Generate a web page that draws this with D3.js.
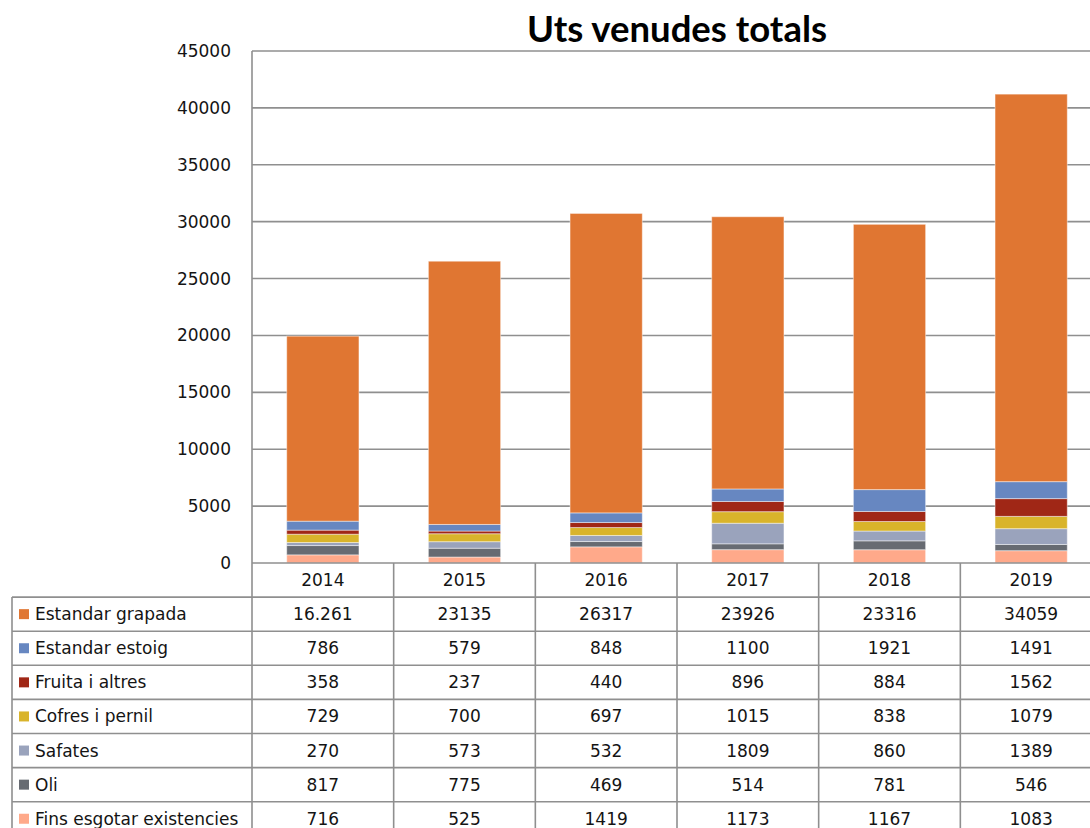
<!DOCTYPE html>
<html>
<head>
<meta charset="utf-8">
<script src="https://cdn.jsdelivr.net/npm/d3@7"></script>
<style>
  body { margin: 0; background: #fff; }
  svg { display: block; }
  text { font-family: "DejaVu Sans", Verdana, sans-serif; fill: #141414; }
</style>
</head>
<body>
<svg id="chart" width="1090" height="828"></svg>
<script>
// Uts venudes totals - stacked columns with data table underneath

const years = ['2014', '2015', '2016', '2017', '2018', '2019'];

// bottom of the stack first
const finsEsgotar = [716, 525, 1419, 1173, 1167, 1083];
const oli = [817, 775, 469, 514, 781, 546];
const safates = [270, 573, 532, 1809, 860, 1389];
const cofresPernil = [729, 700, 697, 1015, 838, 1079];
const fruitaAltres = [358, 237, 440, 896, 884, 1562];
const estandarEstoig = [786, 579, 848, 1100, 1921, 1491];
const estandarGrapada = [16261, 23135, 26317, 23926, 23316, 34059];

const yTicks = [0, 5000, 10000, 15000, 20000, 25000, 30000, 35000, 40000, 45000];

const series = [
  { name: 'Fins esgotar existencies', values: finsEsgotar, color: '#FFA98A' },
  { name: 'Oli', values: oli, color: '#676B72' },
  { name: 'Safates', values: safates, color: '#9AA3BC' },
  { name: 'Cofres i pernil', values: cofresPernil, color: '#D9B42B' },
  { name: 'Fruita i altres', values: fruitaAltres, color: '#A02716' },
  { name: 'Estandar estoig', values: estandarEstoig, color: '#6787C1' },
  { name: 'Estandar grapada', values: estandarGrapada, color: '#E07632' }
];

// the source sheet shows one cell with a thousands separator
const cellOverride = { 'Estandar grapada|2014': '16.261' };

const svg = d3.select('#chart');
const plotLeft = 252, plotRight = 1102, plotTop = 51, plotBottom = 563;
const tableLeft = 12, rowH = 34.1;
const gridColor = '#8f8f8f';
const fontSize = '17px';

const rows = years.map((year, i) => {
  const r = { year };
  series.forEach(s => { r[s.name] = s.values[i]; });
  return r;
});

const stack = d3.stack().keys(series.map(s => s.name));
const layers = stack(rows);

const x = d3.scaleBand().domain(years).range([plotLeft, plotRight]).padding(0);
const xBar = d3.scaleBand().domain(years).range([plotLeft, plotRight]).paddingInner(0.49).paddingOuter(0.245);
const y = d3.scaleLinear().domain([0, 45000]).range([plotBottom, plotTop]);

// gridlines
svg.append('g')
  .selectAll('line')
  .data(yTicks.filter(t => t > 0))
  .join('line')
  .attr('x1', plotLeft).attr('x2', 1090)
  .attr('y1', d => y(d)).attr('y2', d => y(d))
  .attr('stroke', gridColor).attr('stroke-width', 1.6);

// y axis labels
svg.append('g')
  .selectAll('text')
  .data(yTicks)
  .join('text')
  .attr('x', 231)
  .attr('y', d => y(d) + 6)
  .attr('text-anchor', 'end')
  .attr('font-size', fontSize)
  .text(d => d);

// bars
const colorOf = name => series.find(s => s.name === name).color;
svg.append('g')
  .selectAll('g')
  .data(layers)
  .join('g')
  .attr('fill', d => colorOf(d.key))
  .selectAll('rect')
  .data(d => d)
  .join('rect')
  .attr('x', d => xBar(d.data.year))
  .attr('width', xBar.bandwidth())
  .attr('y', d => y(d[1]))
  .attr('height', d => y(d[0]) - y(d[1]))
  .attr('stroke', 'rgba(255,255,255,0.45)')
  .attr('stroke-width', 1);

// title
svg.append('text')
  .attr('x', (plotLeft + plotRight) / 2)
  .attr('y', 42)
  .attr('text-anchor', 'middle')
  .style('font-family', 'Lato, "Open Sans", sans-serif')
  .style('font-weight', 'bold')
  .style('font-size', '36.5px')
  .style('fill', '#000')
  .text('Uts venudes totals');

// data table
const table = svg.append('g');
const tableRows = series.slice().reverse();
const tableBottom = plotBottom + rowH + tableRows.length * rowH;

// plot-area left edge runs down through the table
table.append('line')
  .attr('x1', plotLeft).attr('x2', plotLeft)
  .attr('y1', plotTop).attr('y2', 828)
  .attr('stroke', gridColor).attr('stroke-width', 1.6);

// x axis line
table.append('line')
  .attr('x1', plotLeft).attr('x2', 1090)
  .attr('y1', plotBottom).attr('y2', plotBottom)
  .attr('stroke', gridColor).attr('stroke-width', 1.6);

// column separators
table.selectAll('line.col')
  .data(years.slice(1))
  .join('line')
  .attr('class', 'col')
  .attr('x1', d => x(d)).attr('x2', d => x(d))
  .attr('y1', plotBottom).attr('y2', Math.max(tableBottom, 828))
  .attr('stroke', gridColor).attr('stroke-width', 1.6);

// outer left edge of the legend column
table.append('line')
  .attr('x1', tableLeft).attr('x2', tableLeft)
  .attr('y1', plotBottom + rowH).attr('y2', Math.max(tableBottom, 828))
  .attr('stroke', gridColor).attr('stroke-width', 1.6);

// row separators
table.selectAll('line.row')
  .data(d3.range(tableRows.length))
  .join('line')
  .attr('class', 'row')
  .attr('x1', tableLeft).attr('x2', 1090)
  .attr('y1', i => plotBottom + rowH + i * rowH)
  .attr('y2', i => plotBottom + rowH + i * rowH)
  .attr('stroke', gridColor).attr('stroke-width', 1.6);

// header years
table.selectAll('text.year')
  .data(years)
  .join('text')
  .attr('class', 'year')
  .attr('x', d => x(d) + x.bandwidth() / 2)
  .attr('y', plotBottom + rowH / 2 + 6)
  .attr('text-anchor', 'middle')
  .attr('font-size', fontSize)
  .text(d => d);

const rowG = table.selectAll('g.trow')
  .data(tableRows)
  .join('g')
  .attr('class', 'trow')
  .attr('transform', (d, i) => `translate(0,${plotBottom + rowH + i * rowH})`);

rowG.append('rect')
  .attr('x', 19).attr('y', rowH / 2 - 5)
  .attr('width', 10).attr('height', 10)
  .attr('fill', d => d.color);

rowG.append('text')
  .attr('x', 35)
  .attr('y', rowH / 2 + 6)
  .attr('font-size', fontSize)
  .text(d => d.name);

rowG.selectAll('text.val')
  .data(d => d.values.map((v, i) => ({ name: d.name, year: years[i], v })))
  .join('text')
  .attr('class', 'val')
  .attr('x', d => x(d.year) + x.bandwidth() / 2)
  .attr('y', rowH / 2 + 6)
  .attr('text-anchor', 'middle')
  .attr('font-size', fontSize)
  .text(d => cellOverride[`${d.name}|${d.year}`] || d.v);
</script>
</body>
</html>
